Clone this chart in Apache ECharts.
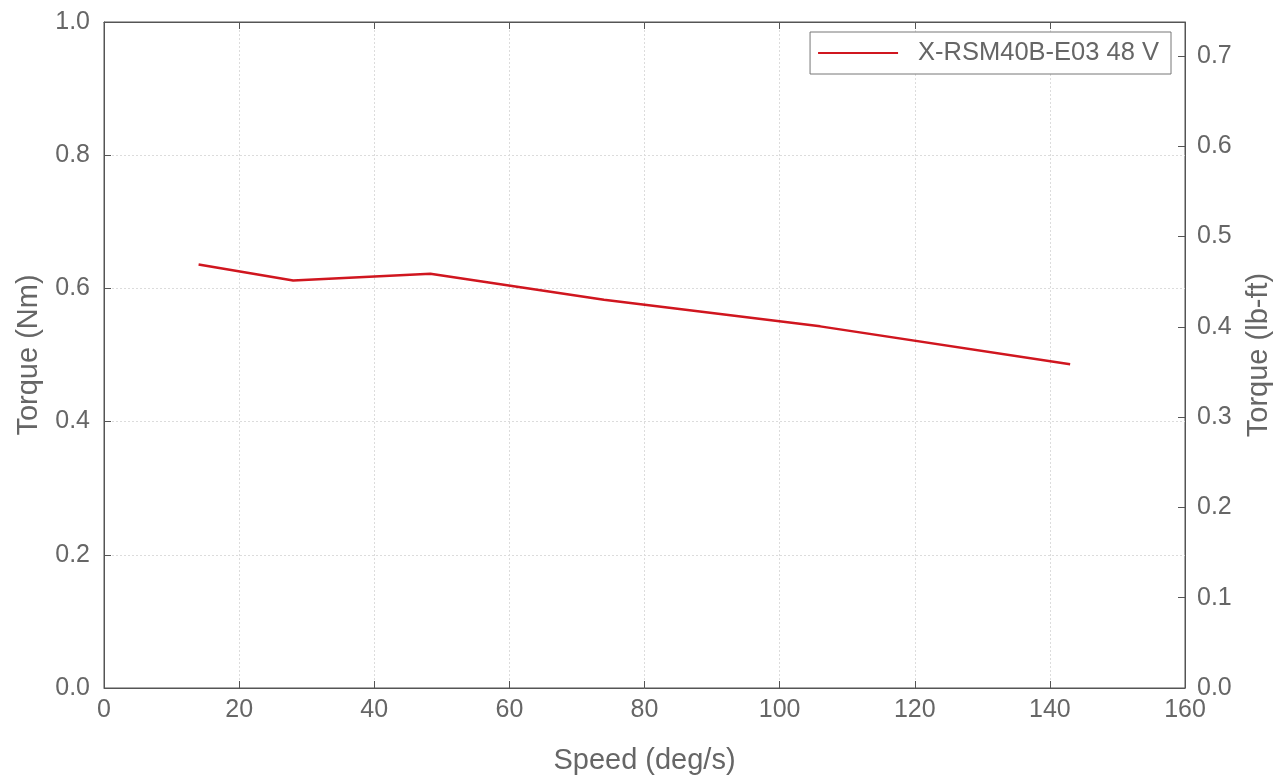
<!DOCTYPE html>
<html><head><meta charset="utf-8">
<script src="https://cdn.jsdelivr.net/npm/echarts@6/dist/echarts.min.js"></script>
<style>html,body{margin:0;padding:0;background:#fff}#c{width:1282px;height:780px}</style>
</head><body><div id="c"></div>
<script>
const seriesName = 'X-RSM40B-E03 48 V';
const speed = [14.0, 28.0, 48.3, 74.0, 106.0, 143.0];
const torqueNm = [0.636, 0.612, 0.622, 0.583, 0.543, 0.486];
const xTitle = 'Speed (deg/s)';
const yLeftTitle = 'Torque (Nm)';
const yRightTitle = 'Torque (lb-ft)';
const NM_TO_LBFT = 0.737562;

const font = 'Liberation Sans, Arial, Helvetica, sans-serif';
const txt = '#666';
const axisC = '#555';
const gridLine = {show:true, lineStyle:{color:'#dcdcdc', type:[2,2], width:1}};
const tick = {show:true, inside:true, length:7, lineStyle:{color:axisC}};
const line = {show:true, onZero:false, lineStyle:{color:axisC}};

const chart = echarts.init(document.getElementById('c'));
chart.setOption({
  animation:false,
  grid:{left:104, right:97, top:22, bottom:91, show:true, borderColor:axisC, borderWidth:1},
  legend:{
    right:111, top:32, orient:'horizontal',
    data:[seriesName],
    backgroundColor:'#fff', borderColor:'#777', borderWidth:1,
    padding:[8,12,8,8],
    itemWidth:80, itemHeight:2, itemGap:10,
    icon:'rect',
    textStyle:{fontFamily:font, fontSize:25.5, color:txt, padding:[0,0,0,15]}
  },
  xAxis:[{
    type:'value', min:0, max:160, interval:20,
    name:xTitle, nameLocation:'middle', nameGap:58,
    nameTextStyle:{fontFamily:font, fontSize:29, color:txt},
    axisLine:line, axisTick:tick,
    axisLabel:{fontFamily:font, fontSize:25, color:txt, margin:10},
    splitLine:gridLine
  },{
    type:'value', min:0, max:160, interval:20, position:'top',
    axisLine:line, axisTick:tick,
    axisLabel:{show:false}, splitLine:{show:false}
  }],
  yAxis:[{
    type:'value', min:0, max:1, interval:0.2, position:'left',
    name:yLeftTitle, nameLocation:'middle', nameGap:61,
    nameTextStyle:{fontFamily:font, fontSize:29, color:txt},
    axisLine:line, axisTick:tick,
    axisLabel:{fontFamily:font, fontSize:25, color:txt, margin:14, formatter:v=>v.toFixed(1)},
    splitLine:gridLine
  },{
    type:'value', min:0, max:NM_TO_LBFT, interval:0.1, position:'right',
    name:yRightTitle, nameLocation:'middle', nameGap:59,
    nameTextStyle:{fontFamily:font, fontSize:29, color:txt},
    axisLine:line, axisTick:tick,
    axisLabel:{fontFamily:font, fontSize:25, color:txt, margin:12, showMaxLabel:false,
      formatter:v=>(Math.abs(v*10-Math.round(v*10))<1e-6 ? v.toFixed(1) : '')},
    splitLine:{show:false}
  }],
  series:[{
    name:seriesName, type:'line', xAxisIndex:0, yAxisIndex:0,
    data:speed.map((s,i)=>[s, torqueNm[i]]),
    showSymbol:false, symbol:'none',
    lineStyle:{color:'#d0161f', width:2.5},
    itemStyle:{color:'#d0161f'}
  }]
});
</script></body></html>
